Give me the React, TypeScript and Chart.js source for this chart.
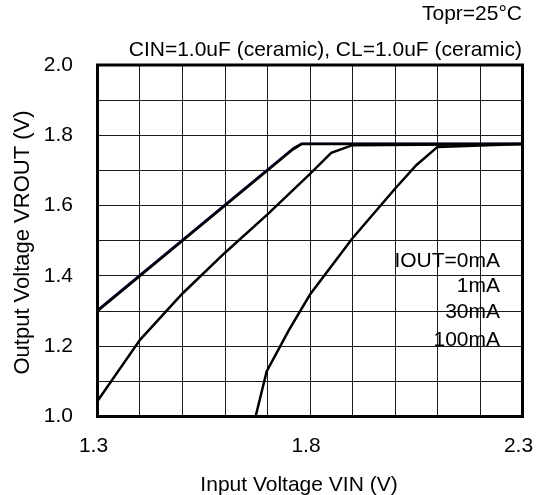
import React, { useEffect, useRef } from "react";
import { Chart, registerables } from "chart.js";

Chart.register(...registerables);

// ---- data ----
const vin0mA = [1.3, 1.76, 1.78, 2.3];
const vout0mA = [1.303, 1.763, 1.777, 1.777];
const vin1mA = [1.3, 1.76, 1.78, 2.3];
const vout1mA = [1.3, 1.76, 1.775, 1.775];
const vin30mA = [1.3, 1.4, 1.5, 1.6, 1.7, 1.8, 1.85, 1.9, 2.3];
const vout30mA = [1.044, 1.218, 1.35, 1.466, 1.575, 1.69, 1.75, 1.772, 1.775];
const vin100mA = [1.672, 1.698, 1.75, 1.8, 1.9, 2.0, 2.05, 2.1, 2.3];
const vout100mA = [1.0, 1.128, 1.245, 1.347, 1.507, 1.648, 1.715, 1.767, 1.775];

const xGrid = [1.3, 1.4, 1.5, 1.6, 1.7, 1.8, 1.9, 2.0, 2.1, 2.2, 2.3];
const yGrid = [1.0, 1.1, 1.2, 1.3, 1.4, 1.5, 1.6, 1.7, 1.8, 1.9, 2.0];
const xTickLabels = ["1.3", "1.8", "2.3"];
const yTickLabels = ["1.0", "1.2", "1.4", "1.6", "1.8", "2.0"];

const headerLines = ["Topr=25°C", "CIN=1.0uF (ceramic), CL=1.0uF (ceramic)"];
const seriesLabels = ["IOUT=0mA", "1mA", "30mA", "100mA"];
const xTitle = "Input Voltage VIN (V)";
const yTitle = "Output Voltage VROUT (V)";

const FONT = '"Liberation Sans", Arial, sans-serif';

const pts = (xs: number[], ys: number[]) => xs.map((x, i) => ({ x, y: ys[i] }));

const textPlugin = {
  id: "textPlugin",
  afterDraw(chart: any) {
    const ctx = chart.ctx;
    const { left, right, top, bottom } = chart.chartArea;
    ctx.save();
    // frame
    ctx.strokeStyle = "#000";
    ctx.lineWidth = 3;
    ctx.strokeRect(left, top, right - left, bottom - top);

    ctx.fillStyle = "#000";
    ctx.font = `21px ${FONT}`;
    ctx.textAlign = "right";
    ctx.textBaseline = "alphabetic";
    ctx.fillText(headerLines[0], right - 0.5, 19.5);
    ctx.fillText(headerLines[1], right - 0.5, 56);

    // series annotations
    const annBase = [266.7, 291.7, 318.3, 346];
    seriesLabels.forEach((s, i) => {
      ctx.fillText(s, 500, annBase[i]);
    });

    // x title
    ctx.textAlign = "center";
    ctx.fillText(xTitle, 299, 490.5);

    // y title
    ctx.font = `22px ${FONT}`;
    ctx.translate(22.5, 242.5);
    ctx.rotate(-Math.PI / 2);
    ctx.textBaseline = "middle";
    ctx.fillText(yTitle, 0, 0);
    ctx.restore();
  },
};

export default function App() {
  const ref = useRef<HTMLCanvasElement>(null);
  useEffect(() => {
    if (!ref.current) return;
    const line = (data: any, color: string, width: number) => ({
      data,
      borderColor: color,
      backgroundColor: color,
      borderWidth: width,
      showLine: true,
      pointRadius: 0,
      tension: 0,
      fill: false,
    });
    const chart = new Chart(ref.current, {
      type: "scatter",
      data: {
        datasets: [
          line(pts(vin1mA, vout1mA), "#000", 2.5),
          line(pts(vin0mA, vout0mA), "#14146e", 2),
          line(pts(vin30mA, vout30mA), "#000", 2.5),
          line(pts(vin100mA, vout100mA), "#000", 2.5),
        ],
      },
      options: {
        responsive: false,
        animation: false,
        devicePixelRatio: 1,
        layout: { autoPadding: false, padding: { top: 65, right: 13.5, left: 0, bottom: 0 } },
        plugins: { legend: { display: false }, tooltip: { enabled: false }, title: { display: false } },
        scales: {
          x: {
            type: "linear",
            min: 1.3,
            max: 2.3,
            afterFit: (s: any) => { s.height = 78.5; s.paddingLeft = 0; s.paddingRight = 0; },
            afterBuildTicks: (s: any) => { s.ticks = xGrid.map((v) => ({ value: v })); },
            grid: { color: "#1a1a1a", lineWidth: 1, drawTicks: false },
            border: { display: false },
            ticks: {
              autoSkip: false,
              maxRotation: 0,
              padding: 17,
              labelOffset: -4,
              color: "#000",
              font: { family: FONT, size: 21 },
              callback: (v: any) => {
                const s = Number(v).toFixed(1);
                return xTickLabels.includes(s) ? s : "";
              },
            },
          },
          y: {
            type: "linear",
            min: 1.0,
            max: 2.0,
            afterFit: (s: any) => { s.width = 97.5; s.paddingTop = 0; s.paddingBottom = 0; },
            afterBuildTicks: (s: any) => { s.ticks = yGrid.map((v) => ({ value: v })); },
            grid: { color: "#1a1a1a", lineWidth: 1, drawTicks: false },
            border: { display: false },
            ticks: {
              autoSkip: false,
              padding: 24.5,
              color: "#000",
              font: { family: FONT, size: 21 },
              callback: (v: any) => {
                const s = Number(v).toFixed(1);
                return yTickLabels.includes(s) ? s : "";
              },
            },
          },
        },
      },
      plugins: [textPlugin],
    });
    return () => chart.destroy();
  }, []);
  return (
    <div style={{ position: "absolute", left: 0, top: 0, width: 536, height: 495, background: "#fff" }}>
      <canvas ref={ref} width={536} height={495} style={{ width: 536, height: 495 }} />
    </div>
  );
}
